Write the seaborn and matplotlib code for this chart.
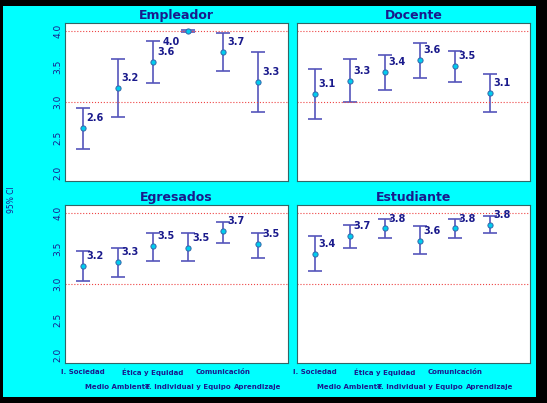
import numpy as np
import pandas as pd
import seaborn as sns
import matplotlib.pyplot as plt
from matplotlib.patches import Rectangle

sns.set_style("white")
plt.rcParams['font.family'] = ['DejaVu Sans']

categories = ["I. Sociedad", "Medio Ambiente", "Ética y Equidad",
              "T. Individual y Equipo", "Comunicación", "Aprendizaje"]
panels = ["Empleador", "Docente", "Egresados", "Estudiante"]

emp_mean = [2.63, 3.20, 3.56, 4.00, 3.70, 3.28]
emp_lo = [2.34, 2.79, 3.27, 3.99, 3.44, 2.86]
emp_hi = [2.92, 3.60, 3.86, 4.01, 3.97, 3.70]
emp_lab = ["2.6", "3.2", "3.6", "4.0", "3.7", "3.3"]

doc_mean = [3.11, 3.30, 3.42, 3.59, 3.50, 3.13]
doc_lo = [2.76, 3.00, 3.17, 3.34, 3.28, 2.86]
doc_hi = [3.46, 3.60, 3.66, 3.83, 3.72, 3.39]
doc_lab = ["3.1", "3.3", "3.4", "3.6", "3.5", "3.1"]

egr_mean = [3.25, 3.31, 3.54, 3.51, 3.74, 3.56]
egr_lo = [3.04, 3.10, 3.33, 3.32, 3.58, 3.37]
egr_hi = [3.46, 3.50, 3.72, 3.71, 3.87, 3.72]
egr_lab = ["3.2", "3.3", "3.5", "3.5", "3.7", "3.5"]

est_mean = [3.42, 3.67, 3.78, 3.61, 3.78, 3.83]
est_lo = [3.18, 3.50, 3.64, 3.42, 3.64, 3.71]
est_hi = [3.67, 3.83, 3.92, 3.82, 3.92, 3.96]
est_lab = ["3.4", "3.7", "3.8", "3.6", "3.8", "3.8"]

data = [(emp_mean, emp_lo, emp_hi, emp_lab), (doc_mean, doc_lo, doc_hi, doc_lab),
        (egr_mean, egr_lo, egr_hi, egr_lab), (est_mean, est_lo, est_hi, est_lab)]

W, H = 547, 403
fig = plt.figure(figsize=(W / 100, H / 100), dpi=100)
fig.patch.set_facecolor("black")
fig.patches.append(Rectangle((3 / W, 6 / H), 533 / W, 391 / H, transform=fig.transFigure,
                             facecolor="#00ffff", edgecolor="none", zorder=-10))

boxes = [(65, 23, 223, 158), (297, 23, 233, 158), (65, 205, 223, 158), (297, 205, 233, 158)]
navy = "#1a1a8c"
for i, (name, (m, lo, hi, lab)) in enumerate(zip(panels, data)):
    x0, y0, w, h = boxes[i]
    ax = fig.add_axes([x0 / W, 1 - (y0 + h) / H, w / W, h / H])
    ax.set_facecolor("white")
    df = pd.DataFrame({"x": np.arange(6), "mean": m, "lo": lo, "hi": hi})
    ax.errorbar(df["x"], df["mean"], yerr=[df["mean"] - df["lo"], df["hi"] - df["mean"]],
                fmt="none", ecolor="#5555bb", elinewidth=1.2, capsize=5, capthick=1.2)
    sns.scatterplot(data=df, x="x", y="mean", ax=ax, color="#00ccee", edgecolor="#3366aa",
                    s=14, linewidth=0.7, zorder=5)
    for xi, yi, t in zip(df["x"], df["mean"], lab):
        if t == "4.0" and yi >= 3.99:
            ax.annotate(t, (xi, yi), xytext=(-18, -10), textcoords="offset points",
                        fontsize=7, color=navy, fontweight="bold")
        else:
            ax.annotate(t, (xi, yi), xytext=(3, 5), textcoords="offset points",
                        fontsize=7, color=navy, fontweight="bold")
    for yl in (3.0, 4.0):
        ax.axhline(yl, color="#ee4444", linestyle=":", linewidth=0.8)
    xr = 5.85 if w == 223 else 6.15
    ax.set_xlim(-0.5, xr)
    ax.set_ylim(1.89, 4.11)
    ax.set_xlabel("")
    ax.set_ylabel("")
    ax.set_xticks([])
    for s in ax.spines.values():
        s.set_color("#336666")
    ax.set_title(name, fontsize=9, fontweight="bold", color=navy, pad=3)
    if i % 2 == 0:
        ax.set_yticks([2.0, 2.5, 3.0, 3.5, 4.0])
        ax.set_yticklabels(["2.0", "2.5", "3.0", "3.5", "4.0"], rotation=90, va="center",
                           fontsize=6.5, color=navy)
        ax.tick_params(axis="y", length=0, pad=2)
    else:
        ax.set_yticks([])
    if i >= 2:
        for k, c in enumerate(categories):
            yoff = -0.06 if k % 2 == 0 else -0.15
            ax.text(k, yoff, c, transform=ax.get_xaxis_transform(), ha="center", va="center",
                    fontsize=5, fontweight="bold", color=navy)

fig.text(12 / W, 1 - 200 / H, "95% CI", rotation=90, ha="center", va="center",
         fontsize=5.5, color=navy)

fig.savefig("out.png", dpi=100, facecolor=fig.get_facecolor())
